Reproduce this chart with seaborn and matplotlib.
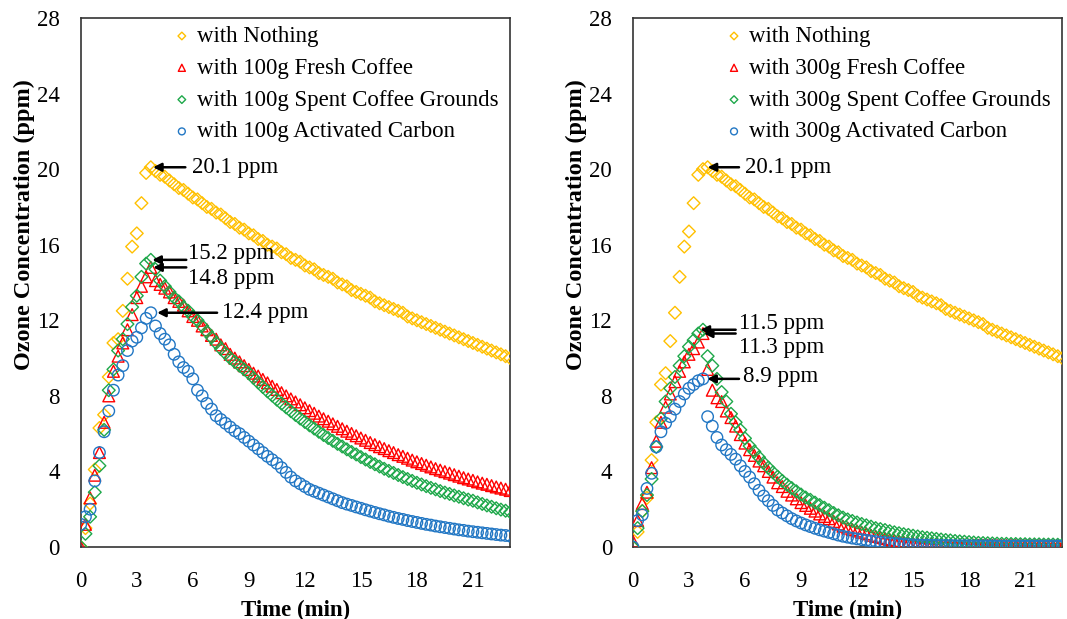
import numpy as np
import pandas as pd
import matplotlib
matplotlib.use("Agg")
import matplotlib.pyplot as plt
import seaborn as sns

# ---------------- data ----------------
TIME = np.linspace(0, 23, 93)  # minutes, 15-s sampling grid

L_none = [0.0, 1.0, 2.3, 4.1, 6.3, 7.0, 9.0, 10.8, 11.0, 12.5, 14.2, 15.9, 16.6, 18.2, 19.8, 20.1,
          19.9, 19.7, 19.6, 19.4, 19.2, 19.0, 18.9, 18.7, 18.5, 18.4,
          18.2, 18.0, 17.9, 17.7, 17.6, 17.4, 17.2, 17.1, 16.9, 16.8,
          16.6, 16.5, 16.3, 16.2, 16.0, 15.9, 15.8, 15.6, 15.5, 15.3,
          15.2, 15.1, 14.9, 14.8, 14.7, 14.5, 14.4, 14.3, 14.2, 14.0,
          13.9, 13.8, 13.6, 13.5, 13.4, 13.3, 13.2, 13.0, 12.9, 12.8,
          12.7, 12.6, 12.5, 12.4, 12.2, 12.1, 12.0, 11.9, 11.8, 11.7,
          11.6, 11.5, 11.4, 11.3, 11.2, 11.1, 11.0, 10.9, 10.8, 10.7,
          10.6, 10.5, 10.4, 10.3, 10.2, 10.1, 10.0]
L_fresh = [0.0, 1.2, 2.6, 3.8, 5.0, 6.6, 8.0, 9.3, 10.1, 10.8, 11.5, 12.3, 13.2, 13.8, 14.3, 14.8,
           14.1, 13.9, 13.7, 13.5, 13.2, 13.0, 12.8, 12.5, 12.2, 12.0,
           11.7, 11.5, 11.2, 11.0, 10.7, 10.5, 10.2, 10.0, 9.8, 9.6,
           9.4, 9.2, 9.05, 8.87, 8.69, 8.51, 8.34, 8.17, 8.0, 7.84,
           7.68, 7.53, 7.37, 7.22, 7.08, 6.93, 6.79, 6.66, 6.52, 6.39,
           6.26, 6.13, 6.01, 5.89, 5.77, 5.65, 5.53, 5.42, 5.31, 5.21,
           5.10, 5.00, 4.89, 4.80, 4.70, 4.60, 4.51, 4.42, 4.33, 4.24,
           4.15, 4.07, 3.99, 3.91, 3.83, 3.75, 3.67, 3.60, 3.53, 3.45,
           3.38, 3.32, 3.25, 3.18, 3.12, 3.06, 2.99]
L_spent = [0.0, 0.7, 1.6, 2.9, 4.3, 6.2, 8.3, 9.4, 10.4, 11.0, 11.8, 12.7, 13.3, 14.3, 15.0, 15.2,
           14.7, 14.1, 13.8, 13.5, 13.2, 13.0, 12.7, 12.5, 12.2, 12.0,
           11.7, 11.4, 11.1, 10.8, 10.5, 10.25, 10.0, 9.8, 9.6, 9.4,
           9.2, 8.95, 8.71, 8.47, 8.24, 8.02, 7.8, 7.59, 7.39, 7.19,
           6.99, 6.8, 6.62, 6.44, 6.27, 6.1, 5.93, 5.77, 5.62, 5.46,
           5.32, 5.17, 5.03, 4.9, 4.76, 4.63, 4.5, 4.38, 4.26, 4.14,
           4.03, 3.92, 3.81, 3.7, 3.6, 3.5, 3.4, 3.31, 3.22, 3.13,
           3.05, 2.96, 2.88, 2.81, 2.73, 2.66, 2.58, 2.51, 2.45, 2.36,
           2.28, 2.2, 2.13, 2.05, 1.98, 1.92, 1.85]
L_carbon = [1.2, 1.6, 2.0, 3.5, 5.0, 6.1, 7.2, 8.3, 9.1, 9.6, 10.4, 10.9, 11.1, 11.6, 12.1, 12.4,
            11.7, 11.3, 11.0, 10.7, 10.2, 9.8, 9.5, 9.3, 8.9, 8.3,
            8.0, 7.6, 7.3, 6.95, 6.75, 6.55, 6.35, 6.15, 6.0, 5.8,
            5.6, 5.4, 5.2, 5.0, 4.8, 4.62, 4.43, 4.2, 3.95, 3.7,
            3.5, 3.35, 3.2, 3.05, 2.95, 2.85, 2.75, 2.65, 2.55, 2.45,
            2.35, 2.27, 2.2, 2.12, 2.05, 1.97, 1.9, 1.83, 1.76, 1.7,
            1.63, 1.57, 1.51, 1.46, 1.4, 1.35, 1.3, 1.25, 1.2, 1.16,
            1.11, 1.07, 1.03, 0.99, 0.95, 0.91, 0.88, 0.84, 0.81, 0.78,
            0.75, 0.72, 0.69, 0.66, 0.63, 0.61, 0.58]

R_none = [0.0, 0.8, 1.9, 2.6, 4.6, 6.6, 8.6, 9.2, 10.9, 12.4, 14.3, 15.9, 16.7, 18.2, 19.7, 20.0,
          20.1, 19.9, 19.7, 19.6, 19.4, 19.2, 19.1, 18.9, 18.7, 18.5,
          18.4, 18.2, 18.0, 17.9, 17.7, 17.5, 17.4, 17.2, 17.1, 16.9,
          16.8, 16.6, 16.5, 16.3, 16.2, 16.0, 15.9, 15.7, 15.6, 15.4,
          15.3, 15.2, 15.0, 14.9, 14.8, 14.6, 14.5, 14.4, 14.2, 14.1,
          14.0, 13.8, 13.7, 13.6, 13.5, 13.3, 13.2, 13.1, 13.0, 12.9,
          12.8, 12.6, 12.5, 12.4, 12.3, 12.2, 12.1, 12.0, 11.9, 11.8,
          11.6, 11.5, 11.4, 11.3, 11.2, 11.1, 11.0, 10.9, 10.8, 10.7,
          10.6, 10.5, 10.4, 10.3, 10.2, 10.1, 10.0]
R_fresh = [0.3, 1.4, 2.3, 2.9, 4.2, 5.6, 6.6, 7.4, 8.1, 8.75, 9.3, 9.8, 10.2, 10.5, 10.85, 11.3,
           9.4, 8.3, 7.9, 7.7, 7.2, 6.85, 6.4, 5.95, 5.5, 5.15,
           4.85, 4.55, 4.3, 4.0, 3.7, 3.4, 3.2, 2.95, 2.75, 2.55,
           2.35, 2.2, 2.05, 1.9, 1.75, 1.62, 1.5, 1.35, 1.22, 1.1,
           1.0, 0.92, 0.85, 0.78, 0.7, 0.62, 0.56, 0.5, 0.44, 0.39,
           0.34, 0.3, 0.26, 0.22, 0.2, 0.18, 0.16, 0.15, 0.14, 0.13,
           0.13, 0.12, 0.12, 0.11, 0.11, 0.1, 0.1, 0.1, 0.09, 0.09,
           0.09, 0.09, 0.08, 0.08, 0.08, 0.08, 0.08, 0.07, 0.07, 0.07,
           0.07, 0.07, 0.07, 0.06, 0.06, 0.06, 0.06]
R_spent = [0.0, 1.0, 1.9, 2.75, 3.6, 5.3, 6.8, 7.7, 8.4, 9.0, 9.6, 10.1, 10.6, 10.95, 11.3, 11.5,
           10.1, 9.6, 8.9, 8.2, 7.7, 7.05, 6.6, 6.2, 5.75, 5.35,
           5.05, 4.75, 4.45, 4.2, 3.95, 3.72, 3.5, 3.3, 3.12, 2.95,
           2.78, 2.62, 2.5, 2.35, 2.22, 2.08, 1.95, 1.8, 1.68, 1.56,
           1.46, 1.38, 1.3, 1.22, 1.15, 1.08, 1.0, 0.95, 0.9, 0.84,
           0.78, 0.73, 0.68, 0.64, 0.6, 0.56, 0.52, 0.49, 0.46, 0.43,
           0.4, 0.37, 0.35, 0.32, 0.3, 0.28, 0.26, 0.24, 0.22, 0.21,
           0.2, 0.19, 0.18, 0.17, 0.17, 0.16, 0.16, 0.15, 0.15, 0.14,
           0.14, 0.14, 0.13, 0.13, 0.13, 0.12, 0.12]
R_carbon = [0.0, 1.4, 1.7, 3.1, 3.9, 5.3, 6.1, 6.55, 6.9, 7.3, 7.7, 8.1, 8.4, 8.6, 8.8, 8.9,
            6.9, 6.4, 5.8, 5.4, 5.15, 4.9, 4.65, 4.3, 4.0, 3.7,
            3.35, 3.0, 2.7, 2.45, 2.2, 1.96, 1.8, 1.65, 1.5, 1.38,
            1.27, 1.17, 1.08, 0.99, 0.91, 0.84, 0.77, 0.7, 0.63, 0.57,
            0.52, 0.47, 0.43, 0.39, 0.36, 0.32, 0.29, 0.26, 0.23, 0.21,
            0.19, 0.17, 0.15, 0.13, 0.12, 0.11, 0.1, 0.1, 0.09, 0.09,
            0.08, 0.08, 0.08, 0.07, 0.07, 0.07, 0.07, 0.06, 0.06, 0.06,
            0.06, 0.06, 0.05, 0.05, 0.05, 0.05, 0.05, 0.05, 0.05, 0.05,
            0.05, 0.05, 0.05, 0.05, 0.05, 0.05, 0.05]

L_LABELS = ["with Nothing", "with 100g Fresh Coffee",
            "with 100g Spent Coffee Grounds", "with 100g Activated Carbon"]
R_LABELS = ["with Nothing", "with 300g Fresh Coffee",
            "with 300g Spent Coffee Grounds", "with 300g Activated Carbon"]

# peak annotations: (label, peak time, peak value)
L_PEAKS = [("20.1 ppm", 3.75, 20.1), ("15.2 ppm", 3.75, 15.2),
           ("14.8 ppm", 3.75, 14.8), ("12.4 ppm", 3.75, 12.4)]
R_PEAKS = [("20.1 ppm", 4.0, 20.1), ("11.5 ppm", 3.75, 11.5),
           ("11.3 ppm", 3.75, 11.3), ("8.9 ppm", 3.75, 8.9)]

X_TICKS = [0, 3, 6, 9, 12, 15, 18, 21]
Y_TICKS = [0, 4, 8, 12, 16, 20, 24, 28]

# ---------------- style ----------------
COLORS = ["#FFC000", "#FF0000", "#1EA84A", "#2277C4"]
MARKERS = ["D", "^", "D", "o"]
SIZES = [42, 72, 42, 68]

sns.set_theme(style="white")
plt.rcParams["font.family"] = ["Liberation Serif", "DejaVu Serif"]
plt.rcParams["text.color"] = "black"
plt.rcParams["axes.labelcolor"] = "black"
plt.rcParams["xtick.color"] = "black"
plt.rcParams["ytick.color"] = "black"

fig = plt.figure(figsize=(10.67, 6.19), dpi=100)
ax1 = fig.add_axes([0.0757, 0.1163, 0.4025, 0.8546])
ax2 = fig.add_axes([0.5932, 0.1163, 0.4025, 0.8546])

# annotation layout: (arrow tip dx, tail x, text x, text y offset)
L_ANN = [(0.12, 5.6, 5.95, 0.0), (0.08, 5.65, 5.75, 0.35),
         (0.13, 5.65, 5.75, -0.6), (0.34, 7.3, 7.55, 0.0)]
R_ANN = [(0.0, 5.68, 6.0, 0.0), (-0.13, 5.5, 5.68, 0.35),
         (0.05, 5.5, 5.68, -0.75), (0.23, 5.68, 5.92, 0.1)]


def draw_panel(ax, series, labels, peaks, ann):
    for y, lab, col, mk, sz in zip(series, labels, COLORS, MARKERS, SIZES):
        df = pd.DataFrame({"Time (min)": TIME, "conc": y})
        sns.scatterplot(data=df, x="Time (min)", y="conc", ax=ax, marker=mk,
                        s=sz, facecolor="none", edgecolor=col, linewidth=1.0,
                        label=lab, zorder=3)
    ax.set_xlim(0, 23)
    ax.set_ylim(0, 28)
    ax.set_xticks(X_TICKS)
    ax.set_yticks(Y_TICKS)
    ax.tick_params(axis="both", length=0, labelsize=16.5, colors="black")
    ax.tick_params(axis="y", pad=15)
    ax.tick_params(axis="x", pad=17)
    ax.set_xlabel("Time (min)", fontsize=16.5, fontweight="bold", labelpad=6,
                  color="black")
    ax.set_ylabel("Ozone Concentration (ppm)", fontsize=17.5, fontweight="bold",
                  color="black")
    ax.yaxis.set_label_coords(-0.107, 0.609)
    for sp in ax.spines.values():
        sp.set_color("#333333")
        sp.set_linewidth(1.2)
    leg = ax.legend(loc="upper left", bbox_to_anchor=(0.214, 0.985), frameon=False,
                    fontsize=16.5, markerscale=0.6, handlelength=0.8,
                    handletextpad=0.25, labelspacing=0.47, borderpad=0.0,
                    borderaxespad=0.0)
    for t in leg.get_texts():
        t.set_color("black")
    for (txt, px, py), (dx, tail, tx, dy) in zip(peaks, ann):
        ax.annotate("", xy=(px + dx, py), xytext=(tail, py),
                    arrowprops=dict(arrowstyle="-|>", color="black", lw=1.8,
                                    mutation_scale=12, shrinkA=0, shrinkB=0),
                    zorder=5)
        ax.text(tx, py + dy, txt, fontsize=16.5, va="center", ha="left", color="black")


draw_panel(ax1, [L_none, L_fresh, L_spent, L_carbon], L_LABELS, L_PEAKS, L_ANN)
draw_panel(ax2, [R_none, R_fresh, R_spent, R_carbon], R_LABELS, R_PEAKS, R_ANN)

fig.savefig("out.png", dpi=100)
